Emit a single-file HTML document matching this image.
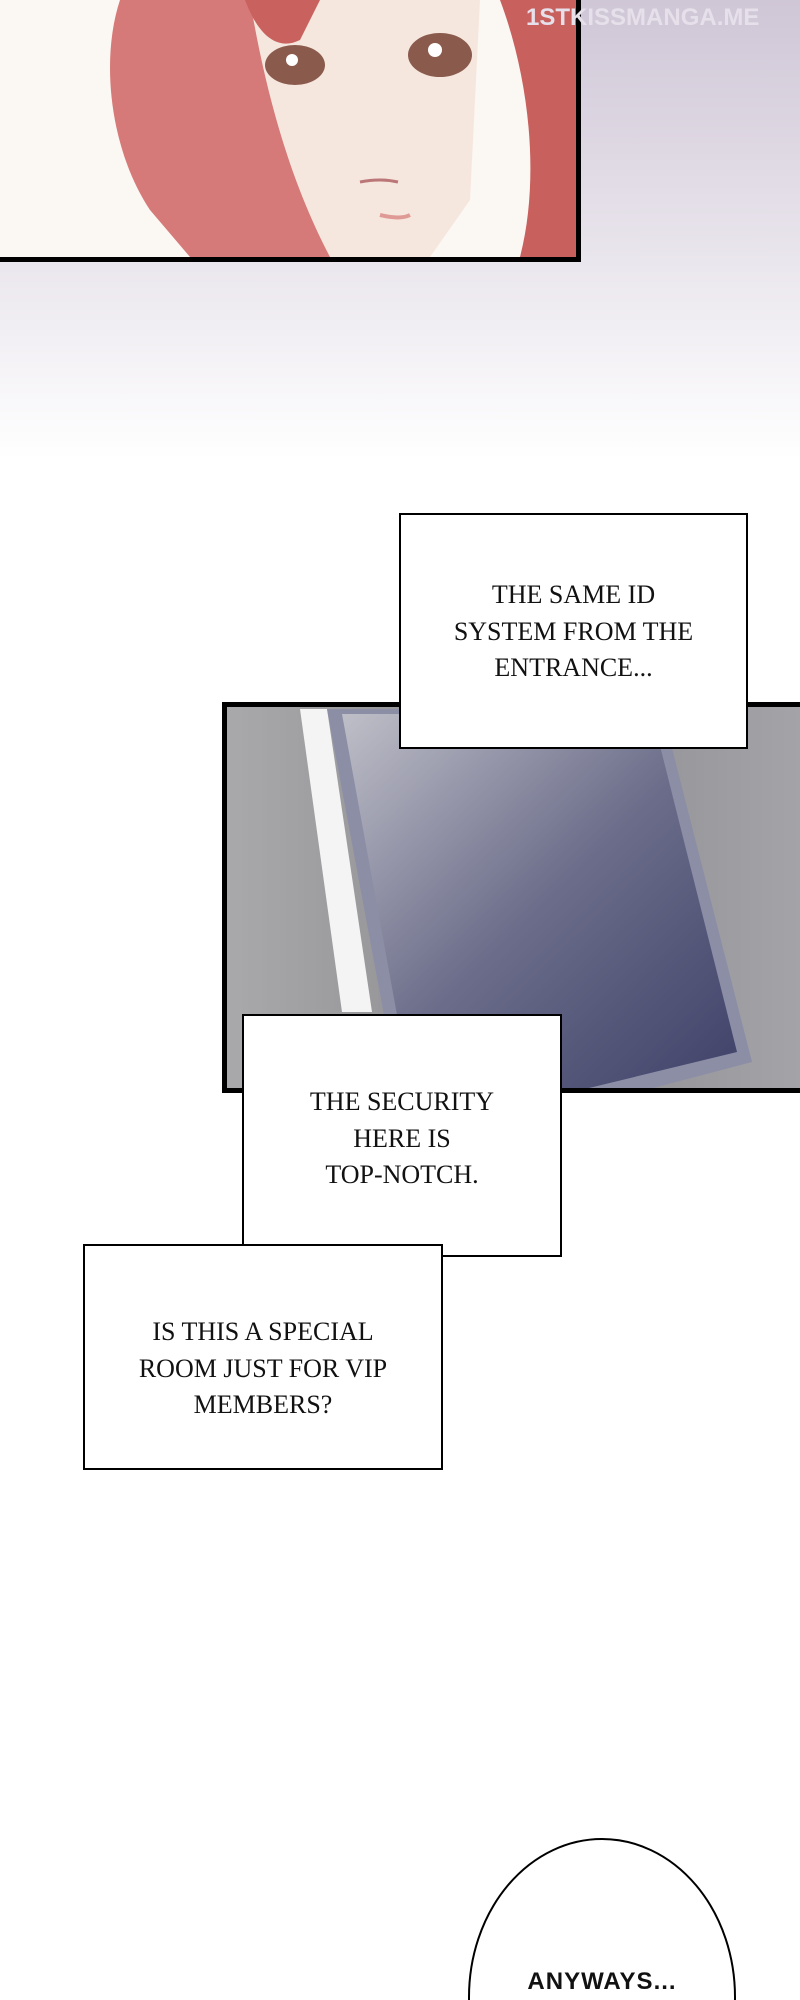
<!DOCTYPE html>
<html style="margin:0;width:800px;height:2000px;overflow:hidden"><head><meta charset="utf-8"><style>
html,body{margin:0;padding:0;width:800px;height:2000px;overflow:hidden}
#w{position:relative;width:800px;height:2000px;overflow:hidden;background:#fff;font-family:"Liberation Serif",serif}
.bg{position:absolute;left:0;top:0;width:800px;height:460px;background:linear-gradient(180deg,#cfc6d6 0%,#e4dfe8 45%,#ffffff 100%)}
.p1{position:absolute;left:0;top:0;width:576px;height:257px;border-right:5px solid #000;border-bottom:5px solid #000;background:#fbf8f5;overflow:hidden}
.box{position:absolute;background:#fff;border:2px solid #000;box-sizing:border-box;text-align:center;font-size:26px;line-height:36.5px;color:#111}
.p2{position:absolute;left:222px;top:702px;width:578px;height:391px;border:5px solid #000;border-right:none;box-sizing:border-box;background:linear-gradient(90deg,#a9a9ab 0%,#8a8a8e 50%,#a3a3a8 100%);overflow:hidden}
</style></head><body><div id="w">
<div class="bg"></div>
<div class="p1">
<svg width="576" height="257">
<rect width="576" height="257" fill="#fbf7f3"/>
<path d="M120 0 C100 60 110 150 150 210 L190 257 L380 257 L360 0Z" fill="#d57a78"/>
<path d="M250 0 L480 0 L470 200 L430 257 L330 257 C300 200 270 120 250 0Z" fill="#f6e7de"/>
<path d="M500 0 L576 0 L576 257 L520 257 C540 180 530 80 500 0Z" fill="#c8605e"/>
<path d="M245 0 C260 40 280 50 300 40 L320 0Z" fill="#c9625f"/>
<ellipse cx="295" cy="65" rx="30" ry="20" fill="#8a5a4d"/>
<ellipse cx="440" cy="55" rx="32" ry="22" fill="#8a5a4d"/>
<circle cx="292" cy="60" r="6" fill="#fff"/><circle cx="435" cy="50" r="7" fill="#fff"/>
<path d="M360 182 q20 -4 38 0" stroke="#b77" stroke-width="3" fill="none"/>
<path d="M380 215 q20 5 30 0" stroke="#e09a95" stroke-width="4" fill="none"/>
</svg>
</div>
<div style="position:absolute;left:526px;top:4px;font:bold 24px 'Liberation Sans',sans-serif;color:#e6e0ea">1STKISSMANGA.ME</div>
<div class="p2">
<svg width="578" height="391" style="position:absolute;left:-5px;top:-5px">
<defs><linearGradient id="g" x1="0" y1="0" x2="1" y2="1"><stop offset="0" stop-color="#bfbfc8"/><stop offset="0.5" stop-color="#6b6d8a"/><stop offset="1" stop-color="#3e4068"/></linearGradient></defs>
<polygon points="78,7 105,7 150,310 120,310" fill="#f4f4f4"/>
<polygon points="105,7 440,7 530,360 340,410 180,410" fill="#8c8ea6"/>
<polygon points="120,12 430,12 515,350 330,395 190,395" fill="url(#g)"/>
</svg>
</div>
<div class="box" style="left:399px;top:513px;width:349px;height:236px;padding-top:62px">THE SAME ID<br>SYSTEM FROM THE<br>ENTRANCE...</div>
<div class="box" style="left:242px;top:1014px;width:320px;height:243px;padding-top:68px">THE SECURITY<br>HERE IS<br>TOP-NOTCH.</div>
<div class="box" style="left:83px;top:1244px;width:360px;height:226px;padding-top:68px">IS THIS A SPECIAL<br>ROOM JUST FOR VIP<br>MEMBERS?</div>
<svg width="270" height="163" style="position:absolute;left:467px;top:1837px;display:block"><ellipse cx="135" cy="160" rx="133" ry="158" fill="#fff" stroke="#000" stroke-width="2"/></svg>
<div style="position:absolute;left:468px;top:1968px;width:268px;height:30px;text-align:center;font:bold 24px 'Liberation Sans',sans-serif;color:#111;letter-spacing:1px">ANYWAYS...</div>
</div></body></html>
